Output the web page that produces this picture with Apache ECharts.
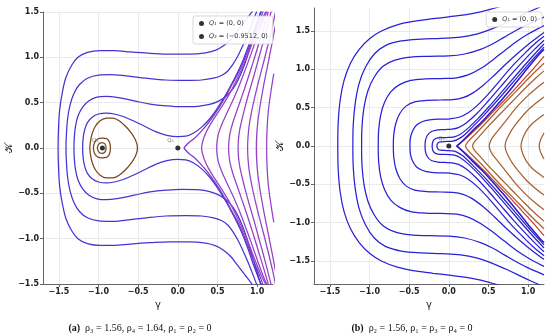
<!DOCTYPE html>
<html><head><meta charset="utf-8">
<script src="https://cdn.jsdelivr.net/npm/echarts@6/dist/echarts.min.js"></script>
<style>html,body{margin:0;padding:0;background:#fff}#c{width:550px;height:336px}</style>
</head><body><div id="c"></div>
<script>
// ---------- tick values ----------
const ticksX = [-1.5, -1, -0.5, 0, 0.5, 1];
const ticksYa = [-1.5, -1, -0.5, 0, 0.5, 1, 1.5];
const ticksYb = [-1.5, -1, -0.5, 0, 0.5, 1, 1.5];

// ---------- panel (a): upper halves (K >= 0), mirrored about K = 0 ----------
const aC1 = [[-1.51,0],[-1.505,0.2],[-1.49,0.42],[-1.455,0.62],[-1.41,0.78],[-1.34,0.91],[-1.26,1.0],[-1.14,1.055],[-0.98,1.075],[-0.8,1.075],[-0.6,1.06],[-0.35,1.045],[-0.1,1.035],[0.15,1.035],[0.35,1.05],[0.48,1.08],[0.58,1.13],[0.67,1.2],[0.75,1.29],[0.83,1.38],[0.9,1.46],[0.95,1.52]];
const aC2 = [[-1.41,0],[-1.405,0.15],[-1.39,0.32],[-1.36,0.47],[-1.31,0.6],[-1.24,0.7],[-1.14,0.77],[-1.0,0.805],[-0.85,0.81],[-0.65,0.795],[-0.4,0.77],[-0.15,0.75],[0.1,0.745],[0.3,0.75],[0.45,0.77],[0.55,0.8],[0.63,0.85],[0.7,0.93],[0.76,1.02],[0.82,1.13],[0.88,1.25],[0.94,1.38],[1.0,1.52]];
const aC3 = [[-1.31,0],[-1.305,0.12],[-1.29,0.24],[-1.26,0.35],[-1.2,0.45],[-1.12,0.52],[-1.02,0.56],[-0.9,0.57],[-0.75,0.555],[-0.55,0.52],[-0.35,0.485],[-0.15,0.465],[0.05,0.455],[0.25,0.46],[0.4,0.48],[0.52,0.52],[0.62,0.58],[0.7,0.66],[0.76,0.75],[0.82,0.87],[0.88,1.02],[0.94,1.2],[1.0,1.37],[1.05,1.52]];
const aC4 = [[-1.2,0],[-1.195,0.1],[-1.175,0.2],[-1.14,0.28],[-1.08,0.34],[-1.0,0.375],[-0.9,0.385],[-0.8,0.375],[-0.68,0.345],[-0.55,0.295],[-0.42,0.24],[-0.28,0.18],[-0.14,0.14],[0,0.125],[0.1,0.13],[0.2,0.165],[0.3,0.23],[0.4,0.32],[0.5,0.44],[0.6,0.58],[0.7,0.74],[0.8,0.92],[0.88,1.1],[0.95,1.28],[1.02,1.44],[1.06,1.52]];
const aH0 = [[0.08,0],[0.1,0.025],[0.14,0.06],[0.2,0.1],[0.28,0.17],[0.37,0.26],[0.47,0.38],[0.57,0.52],[0.67,0.68],[0.77,0.84],[0.86,1.02],[0.94,1.21],[1.02,1.38],[1.08,1.52]];
const aH1 = [[0.3,0],[0.31,0.06],[0.34,0.14],[0.39,0.23],[0.46,0.33],[0.55,0.45],[0.64,0.58],[0.73,0.73],[0.82,0.9],[0.9,1.07],[0.98,1.25],[1.06,1.42],[1.12,1.52]];
const aH2 = [[0.49,0],[0.495,0.07],[0.51,0.15],[0.55,0.25],[0.61,0.37],[0.68,0.5],[0.76,0.66],[0.84,0.84],[0.92,1.03],[1.0,1.23],[1.08,1.42],[1.13,1.52]];
const aH3 = [[0.64,0],[0.645,0.08],[0.66,0.17],[0.69,0.27],[0.74,0.4],[0.8,0.55],[0.87,0.73],[0.94,0.92],[1.01,1.12],[1.08,1.32],[1.14,1.5]];
const aH4 = [[0.76,0],[0.765,0.1],[0.78,0.2],[0.81,0.32],[0.85,0.46],[0.9,0.62],[0.96,0.8],[1.02,0.99],[1.08,1.18],[1.14,1.38],[1.18,1.52]];
const aH5 = [[0.88,0],[0.885,0.12],[0.9,0.25],[0.93,0.4],[0.97,0.56],[1.02,0.74],[1.08,0.94],[1.14,1.15],[1.2,1.37],[1.23,1.5]];
const aH6 = [[0.99,0],[0.995,0.15],[1.01,0.3],[1.04,0.48],[1.08,0.68],[1.13,0.9],[1.18,1.12],[1.23,1.35]];
const aH7 = [[1.12,0],[1.125,0.2],[1.14,0.4],[1.17,0.6],[1.21,0.82]];
const aL1 = [[-1.11,0],[-1.1,0.08],[-1.08,0.16],[-1.04,0.24],[-0.98,0.3],[-0.9,0.33],[-0.82,0.33],[-0.74,0.3],[-0.66,0.24],[-0.59,0.17],[-0.54,0.1],[-0.515,0.04],[-0.51,0]];
const aL2 = [[-1.065,0],[-1.05,0.06],[-1.01,0.1],[-0.95,0.11],[-0.89,0.1],[-0.86,0.06],[-0.85,0]];
const aL3 = [[-1.015,0],[-1.0,0.04],[-0.96,0.06],[-0.92,0.045],[-0.905,0]];
const aQ1 = [[0, 0]];
const aQ2 = [[-0.9512, 0]];

// ---------- panel (b): upper halves ----------
const bR1 = [[-1.4,0],[-1.395,0.3],[-1.37,0.6],[-1.32,0.86],[-1.24,1.08],[-1.13,1.26],[-1.0,1.4],[-0.85,1.5],[-0.65,1.58],[-0.42,1.63],[-0.2,1.66],[0,1.685],[0.2,1.71],[0.4,1.75],[0.55,1.79],[0.68,1.83]];
const bR2 = [[-1.21,0],[-1.205,0.28],[-1.18,0.56],[-1.13,0.82],[-1.05,1.03],[-0.94,1.2],[-0.8,1.31],[-0.6,1.37],[-0.35,1.395],[-0.1,1.405],[0.15,1.42],[0.35,1.46],[0.55,1.53],[0.75,1.62],[0.95,1.72],[1.1,1.79],[1.2,1.84]];
const bR3 = [[-1.1,0],[-1.095,0.25],[-1.07,0.5],[-1.02,0.72],[-0.94,0.9],[-0.83,1.04],[-0.68,1.12],[-0.48,1.16],[-0.25,1.17],[0,1.175],[0.2,1.2],[0.4,1.26],[0.55,1.33],[0.7,1.42],[0.85,1.51],[1.0,1.59],[1.2,1.68]];
const bR4 = [[-0.89,0],[-0.885,0.2],[-0.86,0.4],[-0.81,0.57],[-0.73,0.71],[-0.62,0.8],[-0.48,0.855],[-0.3,0.875],[-0.1,0.88],[0.1,0.89],[0.25,0.93],[0.4,1.01],[0.55,1.12],[0.7,1.24],[0.85,1.36],[1.0,1.46],[1.2,1.57]];
const bR5 = [[-0.7,0],[-0.695,0.14],[-0.67,0.29],[-0.62,0.42],[-0.54,0.52],[-0.43,0.575],[-0.28,0.595],[-0.1,0.6],[0.05,0.605],[0.18,0.63],[0.3,0.69],[0.43,0.79],[0.57,0.92],[0.72,1.07],[0.87,1.21],[1.02,1.34],[1.2,1.48]];
const bR6 = [[-0.49,0],[-0.485,0.1],[-0.46,0.19],[-0.41,0.27],[-0.33,0.32],[-0.22,0.345],[-0.1,0.35],[0.02,0.355],[0.13,0.375],[0.24,0.43],[0.36,0.53],[0.5,0.68],[0.64,0.85],[0.78,1.02],[0.93,1.18],[1.07,1.32],[1.2,1.43]];
const bR7 = [[-0.3,0],[-0.295,0.07],[-0.27,0.14],[-0.22,0.19],[-0.14,0.21],[-0.05,0.215],[0.04,0.22],[0.12,0.24],[0.22,0.3],[0.35,0.42],[0.5,0.59],[0.65,0.77],[0.8,0.95],[0.95,1.12],[1.08,1.26],[1.2,1.38]];
const bR8 = [[-0.21,0],[-0.205,0.045],[-0.185,0.085],[-0.14,0.105],[-0.07,0.11],[0,0.112],[0.07,0.12],[0.14,0.15],[0.24,0.23],[0.37,0.36],[0.52,0.53],[0.67,0.71],[0.82,0.89],[0.97,1.07],[1.1,1.22],[1.2,1.33]];
const bR9 = [[-0.15,0],[-0.145,0.025],[-0.13,0.045],[-0.1,0.055],[-0.05,0.058],[0,0.06],[0.05,0.065],[0.1,0.08],[0.18,0.13],[0.3,0.25],[0.45,0.41],[0.6,0.58],[0.75,0.76],[0.9,0.94],[1.05,1.12],[1.2,1.29]];
const bSep = [[0.1,0],[0.13,0.025],[0.2,0.095],[0.31,0.21],[0.42,0.32],[0.52,0.43],[0.63,0.56],[0.74,0.69],[0.85,0.83],[0.95,0.96],[1.06,1.1],[1.16,1.22],[1.2,1.26]];
const bB1 = [[0.11,0],[0.13,0.025],[0.2,0.085],[0.3,0.18],[0.45,0.33],[0.6,0.49],[0.75,0.65],[0.9,0.82],[1.05,0.99],[1.2,1.17]];
const bB2 = [[0.21,0],[0.23,0.04],[0.3,0.12],[0.45,0.28],[0.6,0.45],[0.75,0.61],[0.9,0.77],[1.05,0.93],[1.2,1.08]];
const bB3 = [[0.3,0],[0.32,0.05],[0.38,0.12],[0.5,0.26],[0.65,0.42],[0.8,0.58],[0.95,0.74],[1.1,0.89],[1.2,0.98]];
const bB4 = [[0.51,0],[0.52,0.05],[0.55,0.11],[0.62,0.2],[0.72,0.33],[0.85,0.5],[1.0,0.66],[1.1,0.75],[1.2,0.83]];
const bB5 = [[0.71,0],[0.72,0.06],[0.75,0.13],[0.8,0.22],[0.88,0.33],[0.98,0.45],[1.1,0.56],[1.2,0.64]];
const bB6 = [[0.91,0],[0.92,0.06],[0.94,0.12],[0.98,0.2],[1.04,0.28],[1.12,0.35],[1.2,0.41]];
const bB7 = [[1.14,0],[1.15,0.06],[1.17,0.11],[1.2,0.17]];
const bQ1 = [[0, 0]];

// ---------- helpers ----------
function openCurve(up) {
  const low = up.slice(1).map(p => [p[0], -p[1]]).reverse();
  return low.concat(up);
}
function closedCurve(up) {
  const low = up.map(p => [p[0], -p[1]]).reverse().slice(1);
  return up.concat(low);
}
function ln(g, data, color, w, z) {
  return { type: 'line', xAxisIndex: g, yAxisIndex: g, data: data, smooth: 0.35,
    symbol: 'none', lineStyle: { color: color, width: w || 1.25 }, z: z || 2,
    silent: true, animation: false };
}
const minus = v => String(v.toFixed(1)).replace('-', '\u2212');
const tickFont = { fontFamily: 'DejaVu Sans', fontWeight: 'bold', fontSize: 8, color: '#222' };

function xAx(g) {
  return { gridIndex: g, type: 'value', min: -1.7, max: 1.2,
    name: 'γ', nameLocation: 'middle', nameGap: 15,
    nameTextStyle: { fontFamily: 'DejaVu Sans', fontSize: 10, color: '#222' },
    axisLine: { show: true, onZero: false, lineStyle: { color: '#666', width: 1 } },
    axisTick: { show: true, length: 3, customValues: ticksX, lineStyle: { color: '#666' } },
    axisLabel: Object.assign({ customValues: ticksX, margin: 4, formatter: minus }, tickFont),
    splitLine: { show: true, customValues: ticksX, lineStyle: { color: '#e6e6e6', width: 0.8 } } };
}
function yAx(g, mn, mx, ticks) {
  return { gridIndex: g, type: 'value', min: mn, max: mx,
    name: '𝒦', nameLocation: 'middle', nameGap: 27, nameRotate: 90,
    nameTextStyle: { fontFamily: 'DejaVu Sans', fontSize: 10, color: '#222' },
    axisLine: { show: true, onZero: false, lineStyle: { color: '#666', width: 1 } },
    axisTick: { show: true, length: 3, customValues: ticks, lineStyle: { color: '#666' } },
    axisLabel: Object.assign({ customValues: ticks, margin: 4, formatter: minus }, tickFont),
    splitLine: { show: true, customValues: ticks, lineStyle: { color: '#e6e6e6', width: 0.8 } } };
}

const blueA = '#4434d2', purpA = '#7d36cc', purpB = '#9440c8', brownA = '#7a4518';
const blueB = '#2a20d6', brownB = '#a8602e', redB = '#cc3b2b';

const series = [];
[aC1, aC2, aC3, aC4].forEach(c => series.push(ln(0, openCurve(c), blueA)));
series.push(ln(0, openCurve(aH0), purpA));
[aH1, aH2, aH3, aH4, aH5, aH6, aH7].forEach(c => series.push(ln(0, openCurve(c), purpB)));
[aL1, aL2, aL3].forEach(c => series.push(ln(0, closedCurve(c), brownA)));

[bB7, bB6, bB5, bB4, bB3, bB2].forEach(c => series.push(ln(1, openCurve(c), brownB)));
series.push(ln(1, openCurve(bB1), redB));
series.push(ln(1, openCurve(bSep), '#2a1ec8', 1.6, 3));
[bR1, bR2, bR3, bR4, bR5, bR6, bR7, bR8, bR9].forEach(c => series.push(ln(1, openCurve(c), blueB)));

const dotLabel = t => ({ show: true, formatter: t, position: [-8, -8], fontSize: 5.5, color: '#555', fontFamily: 'DejaVu Sans' });
series.push({ type: 'scatter', name: 'Q1', xAxisIndex: 0, yAxisIndex: 0, data: aQ1, symbolSize: 5,
  itemStyle: { color: '#000' }, z: 10, label: dotLabel('Q₁'), animation: false });
series.push({ type: 'scatter', name: 'Q2', xAxisIndex: 0, yAxisIndex: 0, data: aQ2, symbolSize: 5,
  itemStyle: { color: '#000' }, z: 10, label: dotLabel('Q₂'), animation: false });
series.push({ type: 'scatter', name: 'Q1', xAxisIndex: 1, yAxisIndex: 1, data: bQ1, symbolSize: 5,
  itemStyle: { color: '#000' }, z: 10, label: dotLabel('Q₁'), animation: false });

const legRich = { q: { fontStyle: 'italic', fontSize: 6.5, color: '#333', fontFamily: 'DejaVu Sans' },
  t: { fontSize: 6.5, color: '#333', fontFamily: 'DejaVu Sans' } };
const legFmt = n => n === 'Q1' ? '{q|Q₁}{t| = (0, 0)}' : '{q|Q₂}{t| = (\u22120.9512, 0)}';
const legBase = { orient: 'vertical', icon: 'circle', itemWidth: 5, itemHeight: 5, itemGap: 6,
  backgroundColor: 'rgba(255,255,255,0.9)', borderColor: '#cfcfcf', borderWidth: 0.8, borderRadius: 2,
  padding: [4, 5, 4, 6], formatter: legFmt, textStyle: { rich: legRich, fontSize: 6.5 }, selectedMode: false, z: 20 };

const capRich = { b: { fontWeight: 'bold', fontFamily: 'Liberation Serif', fontSize: 10, color: '#111' },
  t: { fontWeight: 'normal', fontFamily: 'Liberation Serif', fontSize: 10, color: '#111' } };

const chart = echarts.init(document.getElementById('c'), null, { renderer: 'canvas' });
chart.setOption({
  animation: false,
  backgroundColor: '#fff',
  grid: [
    { left: 43, right: 277, top: 12, bottom: 52, containLabel: false },
    { left: 314, right: 6, top: 8, bottom: 52, containLabel: false }
  ],
  xAxis: [xAx(0), xAx(1)],
  yAxis: [yAx(0, -1.5, 1.5, ticksYa), yAx(1, -1.8, 1.8, ticksYb)],
  legend: [
    Object.assign({}, legBase, { left: 193, top: 16, data: ['Q1', 'Q2'] }),
    Object.assign({}, legBase, { right: 8, top: 12, data: ['Q1'] })
  ],
  title: [
    { text: '{b|(a)} {t|ρ₃ = 1.56, ρ₄ = 1.64, ρ₁ = ρ₂ = 0}', left: 140, top: 319, padding: 0, textAlign: 'center',
      textStyle: { fontWeight: 'normal', rich: capRich } },
    { text: '{b|(b)} {t|ρ₂ = 1.56, ρ₁ = ρ₃ = ρ₄ = 0}', left: 412, top: 319, padding: 0, textAlign: 'center',
      textStyle: { fontWeight: 'normal', rich: capRich } }
  ],
  series: series
});
</script></body></html>
